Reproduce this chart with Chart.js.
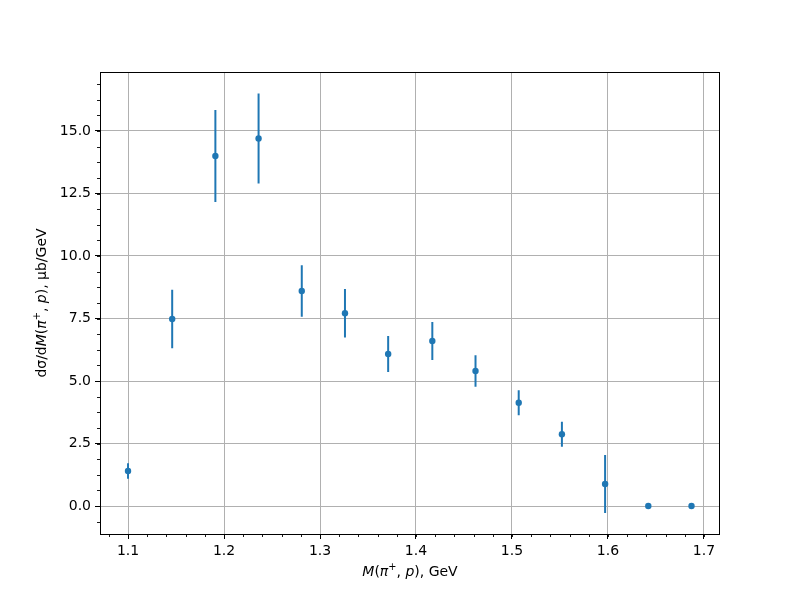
<!DOCTYPE html>
<html>
<head>
<meta charset="utf-8">
<script src="https://cdn.jsdelivr.net/npm/chart.js@4.4.1/dist/chart.umd.min.js"></script>
<style>
  body { margin: 0; background: #fff; }
  canvas { display: block; }
</style>
</head>
<body>
<canvas id="chart" width="800" height="600"></canvas>
<script>
// invariant mass bins, GeV
var massGeV = [1.100, 1.146, 1.191, 1.236, 1.281, 1.326, 1.371, 1.417, 1.462, 1.507, 1.552, 1.597, 1.642, 1.687];
// cross section, ub/GeV, and its error
var dSigma = [1.40, 7.48, 14.0, 14.7, 8.60, 7.71, 6.08, 6.60, 5.40, 4.13, 2.87, 0.88, 0.0, 0.0];
var dSigmaErr = [0.31, 1.17, 1.84, 1.80, 1.03, 0.97, 0.72, 0.76, 0.63, 0.50, 0.50, 1.16, 0.0, 0.0];

var xTicks = [1.1, 1.2, 1.3, 1.4, 1.5, 1.6, 1.7];
var yTicks = [0, 2.5, 5, 7.5, 10, 12.5, 15];
var xMinorStep = 0.02;
var yMinorStep = 0.625;

var FONT = 'DejaVu Sans';
var BLUE = '#1f77b4';

// draw a row of text pieces (some italic / superscript), centered on 0,0
function drawPieces(ctx, pieces) {
    var size = 14;
    var widths = pieces.map(function (p) {
        ctx.font = (p.it ? 'italic ' : '') + (p.sup ? size * 0.7 : size) + 'px "' + FONT + '"';
        return ctx.measureText(p.t).width;
    });
    var total = widths.reduce(function (a, b) { return a + b; }, 0);
    var x = -total / 2;
    ctx.textAlign = 'left';
    ctx.textBaseline = 'middle';
    ctx.fillStyle = '#000';
    pieces.forEach(function (p, i) {
        ctx.font = (p.it ? 'italic ' : '') + (p.sup ? size * 0.7 : size) + 'px "' + FONT + '"';
        ctx.fillText(p.t, x, p.sup ? -5 : 0);
        x += widths[i];
    });
}

var overlay = {
    id: 'overlay',
    beforeDatasetsDraw: function (chart) {
        var ctx = chart.ctx, xs = chart.scales.x, ys = chart.scales.y;
        ctx.save();
        ctx.strokeStyle = BLUE;
        ctx.lineWidth = 2;
        for (var i = 0; i < massGeV.length; i++) {
            if (!dSigmaErr[i]) continue;
            var px = xs.getPixelForValue(massGeV[i]);
            ctx.beginPath();
            ctx.moveTo(px, ys.getPixelForValue(dSigma[i] - dSigmaErr[i]));
            ctx.lineTo(px, ys.getPixelForValue(dSigma[i] + dSigmaErr[i]));
            ctx.stroke();
        }
        ctx.restore();
    },
    afterDraw: function (chart) {
        var ctx = chart.ctx, a = chart.chartArea;
        var xs = chart.scales.x, ys = chart.scales.y;
        ctx.save();
        // frame
        ctx.strokeStyle = '#000';
        ctx.lineWidth = 1;
        ctx.strokeRect(Math.round(a.left) + 0.5, Math.round(a.top) + 0.5,
            Math.round(a.right - a.left) - 1, Math.round(a.bottom - a.top));
        // minor ticks
        ctx.lineWidth = 0.9;
        ctx.beginPath();
        var v, p;
        for (v = Math.ceil(xs.min / xMinorStep) * xMinorStep; v <= xs.max; v += xMinorStep) {
            p = Math.round(xs.getPixelForValue(v)) + 0.5;
            ctx.moveTo(p, a.bottom);
            ctx.lineTo(p, a.bottom + 3);
        }
        for (v = Math.ceil(ys.min / yMinorStep) * yMinorStep; v <= ys.max; v += yMinorStep) {
            p = Math.round(ys.getPixelForValue(v)) + 0.5;
            ctx.moveTo(a.left, p);
            ctx.lineTo(a.left - 3, p);
        }
        ctx.stroke();

        // axis titles
        ctx.save();
        ctx.translate((a.left + a.right) / 2, 572);
        drawPieces(ctx, [
            { t: 'M', it: true }, { t: '(' }, { t: 'π', it: true }, { t: '+', sup: true },
            { t: ', ' }, { t: 'p', it: true }, { t: '), GeV' }
        ]);
        ctx.restore();

        ctx.save();
        ctx.translate(42, (a.top + a.bottom) / 2);
        ctx.rotate(-Math.PI / 2);
        drawPieces(ctx, [
            { t: 'dσ/d' }, { t: 'M', it: true }, { t: '(' }, { t: 'π', it: true },
            { t: '+', sup: true }, { t: ', ' }, { t: 'p', it: true }, { t: '), μb/GeV' }
        ]);
        ctx.restore();
        ctx.restore();
    }
};

var ctx = document.getElementById('chart').getContext('2d');
var points = massGeV.map(function (m, i) { return { x: m, y: dSigma[i] }; });

var myChart = new Chart(ctx, {
    type: 'scatter',
    data: {
        datasets: [{
            data: points,
            backgroundColor: BLUE,
            borderWidth: 0,
            pointRadius: 3.2,
            pointHoverRadius: 3.2
        }]
    },
    options: {
        responsive: false,
        animation: false,
        events: [],
        layout: { padding: { left: 0, top: 72, right: 80, bottom: 0 } },
        plugins: { legend: { display: false }, tooltip: { enabled: false } },
        scales: {
            x: {
                type: 'linear',
                min: 1.0708,
                max: 1.7167,
                afterBuildTicks: function (s) { s.ticks = xTicks.map(function (v) { return { value: v }; }); },
                afterFit: function (s) { s.height = 66; },
                ticks: {
                    callback: function (v) { return Number(v).toFixed(1); },
                    font: { family: FONT, size: 14 },
                    color: '#000',
                    padding: 4,
                    maxRotation: 0,
                    autoSkip: false
                },
                grid: { color: '#b0b0b0', lineWidth: 1, tickColor: '#000', tickLength: 5 },
                border: { display: false }
            },
            y: {
                type: 'linear',
                min: -1.12,
                max: 17.36,
                afterBuildTicks: function (s) { s.ticks = yTicks.map(function (v) { return { value: v }; }); },
                afterFit: function (s) { s.width = 100; },
                ticks: {
                    callback: function (v) { return Number(v).toFixed(1); },
                    font: { family: FONT, size: 14 },
                    color: '#000',
                    padding: 4,
                    autoSkip: false
                },
                grid: { color: '#b0b0b0', lineWidth: 1, tickColor: '#000', tickLength: 5 },
                border: { display: false }
            }
        }
    },
    plugins: [overlay]
});
</script>
</body>
</html>
